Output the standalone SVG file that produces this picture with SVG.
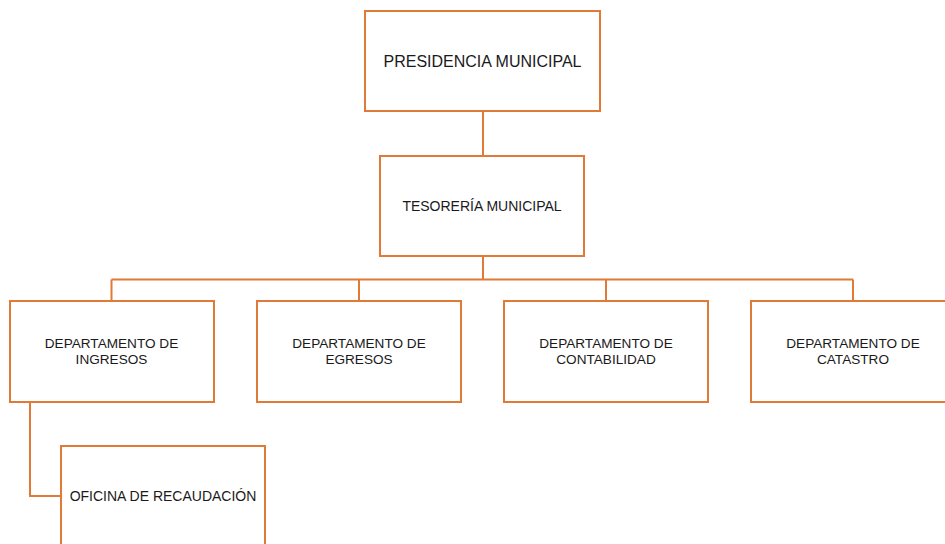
<svg xmlns="http://www.w3.org/2000/svg" width="945" height="544" viewBox="0 0 945 544">
<style>
.box{fill:#fff;stroke:#E07A36;stroke-width:2}
.ln{fill:none;stroke:#E07A36;stroke-width:2}
text{font-family:"Liberation Sans",Arial,sans-serif;fill:#1a1a1a;text-anchor:middle}
.s{font-size:14px}
.d{font-size:13.6px}
.l{font-size:16px}
</style>
<rect width="945" height="544" fill="#fff"/>
<g id="connectors">
<path class="ln" d="M483 111V156M483 256V279.5M111.5 279.5H853M111.5 279.5V301M359 279.5V301M606 279.5V301M853 279.5V301M30 402V496H61"/>
</g>
<g id="presidencia"><rect class="box" x="365" y="11" width="235" height="100"/><text class="l" x="482.5" y="67">PRESIDENCIA MUNICIPAL</text></g>
<g id="tesoreria"><rect class="box" x="380" y="156" width="204" height="100"/><text class="s" x="482" y="211">TESORERÍA MUNICIPAL</text></g>
<g id="ingresos"><rect class="box" x="10" y="301" width="204" height="101"/><text class="d" x="111.5" y="347.5">DEPARTAMENTO DE</text><text class="d" x="111.5" y="363.5">INGRESOS</text></g>
<g id="egresos"><rect class="box" x="257" y="301" width="204" height="101"/><text class="d" x="359" y="347.5">DEPARTAMENTO DE</text><text class="d" x="359" y="363.5">EGRESOS</text></g>
<g id="contabilidad"><rect class="box" x="504" y="301" width="204" height="101"/><text class="d" x="606" y="347.5">DEPARTAMENTO DE</text><text class="d" x="606" y="363.5">CONTABILIDAD</text></g>
<g id="catastro"><rect class="box" x="751" y="301" width="204" height="101"/><text class="d" x="853" y="347.5">DEPARTAMENTO DE</text><text class="d" x="853" y="363.5">CATASTRO</text></g>
<g id="oficina"><rect class="box" x="61" y="446" width="204" height="110"/><text class="s" x="163" y="501">OFICINA DE RECAUDACIÓN</text></g>
</svg>
